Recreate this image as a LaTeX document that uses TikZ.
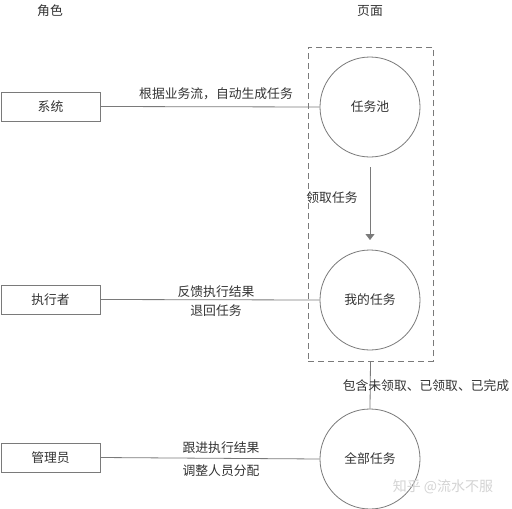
\documentclass[tikz,border=0pt]{standalone}
\usepackage{fontspec}
\setmainfont{Noto Sans CJK SC}
\usetikzlibrary{arrows.meta}
\definecolor{linegray}{HTML}{7A7A7A}
\definecolor{txt}{HTML}{333333}
\definecolor{wm}{HTML}{D4D4D4}
\begin{document}
\begin{tikzpicture}[x=1pt,y=-1pt,
  every node/.style={font=\fontsize{12.8}{15}\selectfont, text=txt},
  rolebox/.style={draw=linegray, line width=0.8pt, minimum width=99pt, minimum height=29pt, inner sep=0pt},
  pagecirc/.style={draw=linegray, line width=0.8pt, circle, minimum size=100pt, inner sep=0pt},
  conn/.style={draw=linegray, line width=0.8pt},
  lbl/.style={inner sep=1pt}
]
\useasboundingbox (0,0) rectangle (512,509);
\fill[white] (0,0) rectangle (512,509);

\node (hrole) at (50,11) {角色};
\node (hpage) at (370,11) {页面};

\node[rolebox] (sys) at (50.5,106.5) {系统};
\node[rolebox] (exe) at (50.5,299.5) {执行者};
\node[rolebox] (adm) at (50.5,457.5) {管理员};

\node[pagecirc] (pool) at (370,107) {任务池};
\node[pagecirc] (mine) at (370,300) {我的任务};
\node[pagecirc] (all) at (370,459) {全部任务};

\node[draw=linegray, dashed, dash pattern=on 6pt off 4pt, line width=0.8pt, minimum width=125pt, minimum height=314pt, inner sep=0pt] (grp) at (370.5,204) {};

\draw[conn] (sys.east) -- (pool.west);
\draw[conn] (exe.east) -- (mine.west);
\draw[conn] (adm.east) -- (all.west);
\draw[conn] (grp.south) -- (all.north);

\coordinate (arrs) at (370,167);
\coordinate (arre) at (370,240);
\draw[conn, -{Triangle[width=9pt,length=6pt]}, fill=linegray] (arrs) -- (arre);

\node[lbl] (l1) at (216,94) {根据业务流，自动生成任务};
\node[lbl] (l2) at (332,198) {领取任务};
\node[lbl] (l3) at (216,292) {反馈执行结果};
\node[lbl] (l4) at (216,311) {退回任务};
\node[lbl] (l5) at (426,386) {包含未领取、已领取、已完成};
\node[lbl] (l6) at (221,448) {跟进执行结果};
\node[lbl] (l7) at (221,471) {调整人员分配};
\node[lbl, text=wm, font=\fontsize{14}{16}\selectfont] (wmk) at (443,487) {知乎 @流水不服};
\end{tikzpicture}
\end{document}
